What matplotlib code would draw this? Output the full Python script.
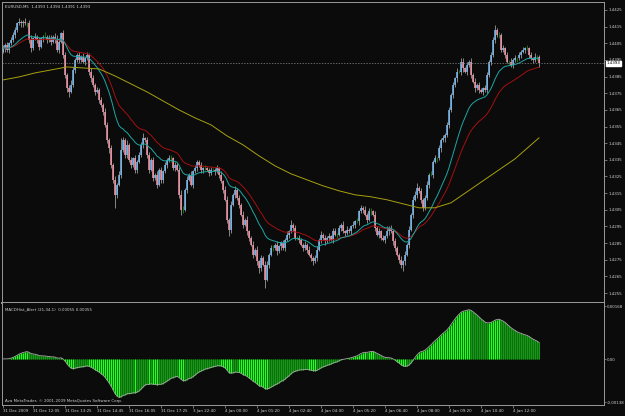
import numpy as np
import matplotlib.pyplot as plt
import matplotlib.transforms as mtransforms

# EURUSD M5 closes, one per bar (open = previous close)
first_open = 1.4400
closes = [
    1.4402, 1.4404, 1.4401, 1.4405, 1.4407, 1.4410, 1.4413, 1.4417, 1.4418, 1.4417,
    1.4418, 1.4417, 1.4417, 1.4407, 1.4402, 1.4408, 1.4409, 1.4407, 1.4403, 1.4408,
    1.4409, 1.4409, 1.4407, 1.4408, 1.4406, 1.4409, 1.4407, 1.4401, 1.4406, 1.4411,
    1.4398, 1.4386, 1.4378, 1.4376, 1.4380, 1.4389, 1.4395, 1.4398, 1.4395, 1.4397,
    1.4394, 1.4396, 1.4398, 1.4388, 1.4384, 1.4380, 1.4376, 1.4377, 1.4371, 1.4368,
    1.4364, 1.4356, 1.4347, 1.4342, 1.4332, 1.4323, 1.4314, 1.4320, 1.4326, 1.4341,
    1.4347, 1.4338, 1.4344, 1.4335, 1.4332, 1.4336, 1.4329, 1.4334, 1.4338, 1.4344,
    1.4348, 1.4347, 1.4338, 1.4329, 1.4335, 1.4324, 1.4326, 1.4320, 1.4329, 1.4323,
    1.4328, 1.4332, 1.4335, 1.4336, 1.4336, 1.4330, 1.4332, 1.4329, 1.4314, 1.4305,
    1.4305, 1.4317, 1.4323, 1.4326, 1.4320, 1.4328, 1.4330, 1.4334, 1.4332, 1.4329,
    1.4330, 1.4330, 1.4329, 1.4327, 1.4329, 1.4329, 1.4328, 1.4330, 1.4326, 1.4322,
    1.4317, 1.4311, 1.4299, 1.4293, 1.4308, 1.4314, 1.4317, 1.4312, 1.4308, 1.4302,
    1.4296, 1.4299, 1.4292, 1.4288, 1.4284, 1.4278, 1.4281, 1.4274, 1.4270, 1.4276,
    1.4272, 1.4263, 1.4272, 1.4278, 1.4282, 1.4282, 1.4284, 1.4280, 1.4283, 1.4285,
    1.4282, 1.4287, 1.4290, 1.4292, 1.4296, 1.4294, 1.4288, 1.4288, 1.4287, 1.4284,
    1.4282, 1.4284, 1.4281, 1.4278, 1.4276, 1.4274, 1.4276, 1.4281, 1.4287, 1.4290,
    1.4288, 1.4286, 1.4288, 1.4289, 1.4287, 1.4292, 1.4290, 1.4290, 1.4294, 1.4296,
    1.4292, 1.4291, 1.4293, 1.4292, 1.4295, 1.4296, 1.4298, 1.4298, 1.4304, 1.4306,
    1.4305, 1.4302, 1.4299, 1.4304, 1.4304, 1.4302, 1.4294, 1.4290, 1.4292, 1.4288,
    1.4287, 1.4289, 1.4292, 1.4294, 1.4292, 1.4286, 1.4282, 1.4278, 1.4275, 1.4272,
    1.4274, 1.4278, 1.4284, 1.4293, 1.4302, 1.4311, 1.4314, 1.4318, 1.4316, 1.4311,
    1.4306, 1.4312, 1.4320, 1.4326, 1.4326, 1.4334, 1.4336, 1.4336, 1.4342, 1.4347,
    1.4348, 1.4350, 1.4356, 1.4365, 1.4374, 1.4380, 1.4384, 1.4388, 1.4388, 1.4394,
    1.4390, 1.4388, 1.4392, 1.4394, 1.4386, 1.4382, 1.4378, 1.4380, 1.4377, 1.4376,
    1.4378, 1.4377, 1.4386, 1.4394, 1.4398, 1.4407, 1.4413, 1.4410, 1.4410, 1.4401,
    1.4402, 1.4398, 1.4394, 1.4394, 1.4392, 1.4395, 1.4396, 1.4396, 1.4398, 1.4400,
    1.4401, 1.4402, 1.4402, 1.4398, 1.4396, 1.4395, 1.4397, 1.4397, 1.4393,
]
# wick lengths in pips above / below the body
up_wick = [
    2, 1, 2, 1, 2, 2, 2, 1, 2, 1,  1, 2, 1, 2, 3, 1, 2, 1, 2, 1,
    1, 3, 1, 2, 2, 1, 2, 3, 2, 1,  2, 2, 1, 2, 3, 2, 1, 1, 2, 1,
    2, 1, 2, 1, 2, 2, 1, 2, 1, 2,  1, 2, 2, 1, 2, 1, 2, 1, 2, 7,
    2, 1, 3, 1, 2, 1, 2, 1, 2, 2,  3, 1, 2, 2, 1, 2, 1, 2, 1, 2,
    1, 2, 1, 2, 2, 1, 2, 1, 2, 3,  2, 1, 2, 1, 2, 1, 2, 1, 1, 2,
    1, 2, 1, 1, 2, 1, 1, 2, 1, 2,  1, 2, 2, 1, 2, 1, 2, 1, 2, 1,
    2, 1, 2, 1, 1, 2, 1, 2, 1, 2,  1, 2, 2, 1, 2, 2, 1, 2, 1, 1,
    2, 1, 2, 1, 3, 1, 2, 1, 2, 1,  1, 2, 1, 2, 1, 1, 2, 2, 1, 2,
    1, 2, 1, 2, 1, 2, 2, 1, 2, 1,  2, 1, 2, 1, 1, 2, 1, 2, 1, 2,
    1, 2, 1, 2, 2, 1, 2, 1, 2, 1,  2, 1, 3, 1, 2, 1, 2, 1, 1, 2,
    1, 2, 1, 2, 1, 2, 2, 3, 1, 2,  1, 2, 2, 1, 2, 1, 2, 1, 2, 1,
    2, 1, 2, 2, 1, 2, 1, 2, 1, 2,  2, 1, 2, 1, 2, 1, 2, 1, 2, 1,
    1, 2, 2, 1, 2, 2, 3, 1, 2, 1,  2, 1, 2, 1, 2, 1, 2, 1, 2, 1,
    2, 1, 2, 1, 2, 1, 2, 1, 1,
]
down_wick = [
    1, 2, 1, 2, 1, 1, 2, 1, 1, 2,  2, 1, 2, 2, 2, 1, 1, 2, 2, 1,
    2, 1, 2, 1, 2, 1, 2, 1, 2, 1,  2, 2, 2, 3, 1, 1, 2, 1, 2, 1,
    1, 2, 1, 2, 2, 1, 2, 1, 2, 1,  2, 1, 2, 3, 2, 2, 8, 2, 1, 2,
    1, 2, 2, 1, 2, 1, 2, 2, 1, 1,  2, 1, 2, 2, 1, 2, 1, 2, 1, 2,
    2, 1, 2, 1, 2, 1, 2, 1, 2, 3,  2, 1, 2, 1, 1, 2, 1, 2, 1, 2,
    2, 1, 1, 2, 1, 1, 2, 1, 2, 1,  2, 1, 2, 4, 2, 1, 2, 1, 2, 1,
    2, 1, 2, 2, 1, 2, 1, 2, 3, 2,  1, 5, 1, 2, 1, 2, 1, 2, 1, 2,
    1, 2, 1, 2, 1, 2, 1, 1, 2, 1,  2, 1, 2, 1, 2, 2, 1, 2, 1, 2,
    1, 2, 1, 2, 1, 2, 1, 2, 1, 2,  1, 2, 1, 1, 2, 1, 2, 1, 2, 1,
    2, 1, 2, 1, 2, 1, 2, 1, 2, 1,  1, 2, 1, 2, 1, 2, 2, 1, 2, 2,
    4, 2, 1, 2, 1, 2, 1, 2, 1, 2,  2, 1, 1, 2, 1, 2, 1, 2, 1, 2,
    1, 2, 1, 2, 1, 2, 1, 2, 1, 2,  2, 1, 2, 1, 2, 1, 2, 1, 2, 1,
    2, 1, 2, 1, 2, 1, 2, 1, 2, 1,  1, 2, 1, 2, 1, 2, 1, 2, 1, 2,
    1, 2, 1, 2, 1, 2, 1, 2, 2,
]
# long moving average (yellow), read every 8 bars
yellow_bars = [0, 8, 16, 24, 32, 40, 48, 56, 64, 72, 80, 88, 96, 104, 112, 120, 128, 136,
               144, 152, 160, 168, 176, 184, 192, 200, 208, 216, 224, 232, 240, 248, 256, 264, 268]
yellow_vals = [1.43830, 1.43848, 1.43872, 1.43890, 1.43908, 1.43902, 1.43896, 1.43854, 1.43806,
               1.43758, 1.43704, 1.43650, 1.43602, 1.43560, 1.43494, 1.43440, 1.43374, 1.43314,
               1.43266, 1.43230, 1.43194, 1.43164, 1.43140, 1.43128, 1.43110, 1.43086, 1.43062,
               1.43062, 1.43092, 1.43158, 1.43224, 1.43290, 1.43356, 1.43440, 1.43482]

price_ticks = [1.4425, 1.4415, 1.4405, 1.4395, 1.4385, 1.4375, 1.4365, 1.4355, 1.4345,
               1.4335, 1.4325, 1.4315, 1.4305, 1.4295, 1.4285, 1.4275, 1.4265, 1.4255]
macd_ticks = [0.00168, 0.0, -0.00138]
macd_tick_labels = ['0.00168', '0.00', '-0.00138']
time_bars = [0, 15, 31, 47, 63, 79, 95, 111, 127, 143, 159, 175, 191, 207, 223, 239, 255]
time_labels = ['31 Dec 2009', '31 Dec 12:05', '31 Dec 13:25', '31 Dec 14:45', '31 Dec 16:05',
               '31 Dec 17:25', '3 Jan 22:40', '4 Jan 00:00', '4 Jan 01:20', '4 Jan 02:40',
               '4 Jan 04:00', '4 Jan 05:20', '4 Jan 06:40', '4 Jan 08:00', '4 Jan 09:20',
               '4 Jan 10:40', '4 Jan 12:00']


def ema(vals, n):
    k = 2.0 / (n + 1)
    out = np.empty(len(vals))
    out[0] = vals[0]
    for i in range(1, len(vals)):
        out[i] = out[i - 1] + k * (vals[i] - out[i - 1])
    return out


c = np.array(closes)
o = np.concatenate([[first_open], c[:-1]])
hi = np.maximum(o, c) + np.array(up_wick) / 1e4
lo = np.minimum(o, c) - np.array(down_wick) / 1e4
x = np.arange(len(c))
ema21 = ema(c, 21)
ema34 = ema(c, 34)
macd = ema21 - ema34

W, H = 625, 416
BG = '#0b0b0b'
FRAME = '#9a9a9a'
TXT = '#d0d0d0'
FS = 2.9


def rect(x0, y0, x1, y1):
    return [x0 / W, 1 - y1 / H, (x1 - x0) / W, (y1 - y0) / H]


fig = plt.figure(figsize=(W / 100, H / 100), dpi=100, facecolor=BG)
ax = fig.add_axes(rect(2, 2, 604, 303), facecolor=BG)
axm = fig.add_axes(rect(2, 303, 604, 405), facecolor=BG)

# candles
UP, DOWN, DOJI, WICK = '#7fbef5', '#f59aac', '#12a012', '#b8b8b8'
body_col = [UP if cc > oo else (DOWN if cc < oo else DOJI) for oo, cc in zip(o, c)]
wick_col = [DOJI if cc == oo else WICK for oo, cc in zip(o, c)]
ax.vlines(x, lo, hi, colors=wick_col, lw=0.5)
ax.vlines(x, np.minimum(o, c), np.maximum(o, c), colors=body_col, lw=1.1)

ax.plot(x, ema34, color='#a31010', lw=0.7)
ax.plot(x, ema21, color='#1ca8a4', lw=0.7)
ax.plot(yellow_bars, yellow_vals, color='#a8a010', lw=0.7)

ax.axhline(c[-1], color='#8a8a8a', lw=0.5, ls=(0, (2, 2)))

ax.set_xlim(-0.5, 300.5)
ax.set_ylim(1.424902, 1.442980)
ax.set_xticks([])
ax.yaxis.tick_right()
ax.set_yticks(price_ticks)
ax.set_yticklabels([f'{p:.4f}' for p in price_ticks])
ax.tick_params(axis='y', colors=FRAME, labelcolor=TXT, labelsize=FS, length=2, width=0.5, pad=1)
for s in ax.spines.values():
    s.set_color(FRAME)
    s.set_linewidth(0.7)
ax.spines['bottom'].set_linewidth(1.4)

tr = mtransforms.blended_transform_factory(ax.transAxes, ax.transData)
ax.text(1.004, c[-1], '1.4393', transform=tr, fontsize=FS, color='black', va='center', ha='left',
        clip_on=False, bbox=dict(facecolor='white', edgecolor='white', pad=0.5))

# MACD histogram: dark green body, bright stripes while the bar grows away from zero
growing = np.concatenate([[True], np.abs(macd[1:]) >= np.abs(macd[:-1])])
axm.fill_between(x, 0, macd, color='#0d6a0d', lw=0)
axm.vlines(x[growing], 0, macd[growing], colors='#22ff22', lw=0.8)
axm.vlines(x[~growing], 0, macd[~growing], colors='#189818', lw=0.8)
axm.plot(x, macd, color='#a8a8a8', lw=0.6)

axm.set_xlim(-0.5, 300.5)
axm.set_ylim(-0.0014603, 0.0017778)
axm.yaxis.tick_right()
axm.set_yticks(macd_ticks)
axm.set_yticklabels(macd_tick_labels)
axm.set_xticks(time_bars)
axm.set_xticklabels(time_labels, ha='left')
axm.tick_params(axis='y', colors=FRAME, labelcolor=TXT, labelsize=FS, length=1.5, width=0.5, pad=0.5)
axm.tick_params(axis='x', colors=FRAME, labelcolor=TXT, labelsize=FS, length=2, width=0.5, pad=1)
for s in axm.spines.values():
    s.set_color(FRAME)
    s.set_linewidth(0.7)
axm.spines['top'].set_visible(False)

fig.text(5 / W, 1 - 7 / H, 'EURUSD,M5  1.4393 1.4394 1.4391 1.4393', fontsize=FS, color=TXT, va='center')
fig.text(5 / W, 1 - 309 / H, 'MACDHist_Alert (21,34,1)  0.00055 0.00055', fontsize=FS, color=TXT, va='center')
fig.text(5 / W, 1 - 401 / H, 'Ava MetaTrader, © 2001-2009 MetaQuotes Software Corp.', fontsize=FS,
         color=TXT, va='center')

fig.savefig('out.png', dpi=100, facecolor=BG)
